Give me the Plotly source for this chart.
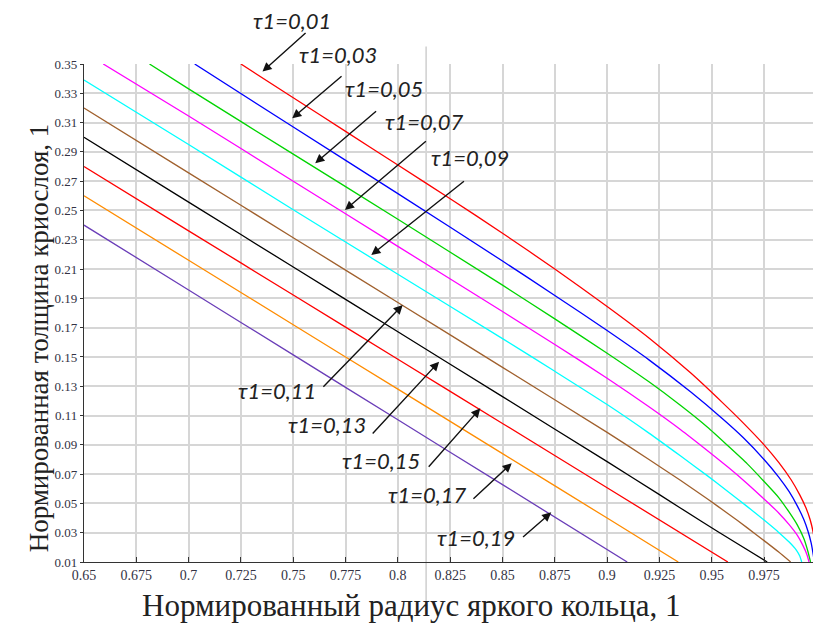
import plotly.graph_objects as go

# ---- data ----
tau_labels = ["τ1=0,01", "τ1=0,03", "τ1=0,05", "τ1=0,07", "τ1=0,09",
              "τ1=0,11", "τ1=0,13", "τ1=0,15", "τ1=0,17", "τ1=0,19"]
colors = ["#FF0000", "#0000FF", "#00D400", "#FF00FF", "#00FFFF",
          "#A0602D", "#000000", "#FF0000", "#FF8C00", "#6A3DB8"]

x_t01 = [0.725, 0.75, 0.775, 0.80, 0.825, 0.85, 0.875, 0.90, 0.92, 0.94, 0.955, 0.965, 0.975, 0.982, 0.988, 0.992, 0.995, 0.997, 0.9985, 0.9995, 1.0]
y_t01 = [0.350, 0.327, 0.304, 0.281, 0.258, 0.2345, 0.210, 0.1845, 0.163, 0.139, 0.119, 0.105, 0.090, 0.078, 0.066, 0.056, 0.047, 0.039, 0.030, 0.020, 0.010]

x_t03 = [0.7029, 0.75, 0.80, 0.85, 0.875, 0.90, 0.92, 0.94, 0.955, 0.965, 0.975, 0.982, 0.987, 0.991, 0.994, 0.996, 0.9975, 0.9985, 0.999]
y_t03 = [0.350, 0.307, 0.2615, 0.2155, 0.192, 0.168, 0.148, 0.126, 0.108, 0.095, 0.080, 0.068, 0.058, 0.048, 0.039, 0.031, 0.023, 0.015, 0.010]

x_t05 = [0.6813, 0.70, 0.75, 0.80, 0.85, 0.875, 0.90, 0.92, 0.935, 0.948, 0.958, 0.967, 0.975, 0.982, 0.987, 0.991, 0.994, 0.996, 0.9972]
y_t05 = [0.350, 0.333, 0.2885, 0.244, 0.199, 0.176, 0.1525, 0.133, 0.117, 0.102, 0.089, 0.077, 0.065, 0.054, 0.044, 0.035, 0.026, 0.017, 0.010]

x_t07 = [0.6592, 0.70, 0.75, 0.80, 0.85, 0.875, 0.90, 0.92, 0.935, 0.948, 0.958, 0.967, 0.975, 0.982, 0.987, 0.991, 0.9935, 0.9955, 0.9965]
y_t07 = [0.350, 0.3145, 0.270, 0.2255, 0.181, 0.1585, 0.1355, 0.116, 0.1005, 0.086, 0.0745, 0.0635, 0.053, 0.0435, 0.0355, 0.028, 0.0215, 0.015, 0.010]

x_t09 = [0.65, 0.70, 0.75, 0.80, 0.85, 0.875, 0.90, 0.92, 0.935, 0.948, 0.958, 0.967, 0.975, 0.982, 0.987, 0.9905, 0.992, 0.993]
y_t09 = [0.339, 0.295, 0.2505, 0.2065, 0.1625, 0.1402, 0.1175, 0.098, 0.0825, 0.0688, 0.0578, 0.0478, 0.0386, 0.0302, 0.0236, 0.018, 0.0143, 0.010]

x_t11 = [0.65, 0.70, 0.75, 0.80, 0.85, 0.90, 0.92, 0.935, 0.948, 0.958, 0.967, 0.975, 0.982, 0.9877]
y_t11 = [0.320, 0.2757, 0.2314, 0.1872, 0.1429, 0.0985, 0.080, 0.0658, 0.053, 0.0428, 0.0333, 0.0246, 0.0168, 0.010]

x_t13 = [0.65, 0.70, 0.75, 0.80, 0.85, 0.90, 0.925, 0.945, 0.96, 0.9765]
y_t13 = [0.300, 0.2557, 0.2114, 0.1672, 0.1229, 0.0785, 0.056, 0.0378, 0.0245, 0.010]

x_t15 = [0.65, 0.70, 0.75, 0.80, 0.85, 0.90, 0.9577]
y_t15 = [0.280, 0.2361, 0.1923, 0.1484, 0.1046, 0.0607, 0.010]

x_t17 = [0.65, 0.70, 0.75, 0.80, 0.85, 0.90, 0.934]
y_t17 = [0.260, 0.216, 0.172, 0.128, 0.084, 0.040, 0.010]

x_t19 = [0.65, 0.70, 0.75, 0.80, 0.85, 0.9096]
y_t19 = [0.240, 0.1957, 0.1514, 0.1071, 0.0628, 0.010]

xs = [x_t01, x_t03, x_t05, x_t07, x_t09, x_t11, x_t13, x_t15, x_t17, x_t19]
ys = [y_t01, y_t03, y_t05, y_t07, y_t09, y_t11, y_t13, y_t15, y_t17, y_t19]

x_ticks = [0.65, 0.675, 0.7, 0.725, 0.75, 0.775, 0.8, 0.825, 0.85, 0.875, 0.9, 0.925, 0.95, 0.975, 1.0]
x_ticktext = ["0.65", "0.675", "0.7", "0.725", "0.75", "0.775", "0.8", "0.825", "0.85", "0.875", "0.9", "0.925", "0.95", "0.975", "1"]
y_ticks = [0.01, 0.03, 0.05, 0.07, 0.09, 0.11, 0.13, 0.15, 0.17, 0.19, 0.21, 0.23, 0.25, 0.27, 0.29, 0.31, 0.33, 0.35]
y_ticktext = ["0.01", "0.03", "0.05", "0.07", "0.09", "0.11", "0.13", "0.15", "0.17", "0.19", "0.21", "0.23", "0.25", "0.27", "0.29", "0.31", "0.33", "0.35"]

X_RANGE = [0.65, 1.0003]
Y_RANGE = [0.01, 0.35]

# label text centre, arrow tail, arrow head (data coordinates)
label_pos = [
    (0.7495, 0.3795, 0.7566, 0.3721, 0.7353, 0.3448),
    (0.7713, 0.3565, 0.7738, 0.3425, 0.7495, 0.3129),
    (0.7935, 0.3333, 0.7903, 0.3186, 0.7605, 0.2822),
    (0.8124, 0.3107, 0.8141, 0.2981, 0.7747, 0.2503),
    (0.8347, 0.2862, 0.8323, 0.2708, 0.7873, 0.2196),
    (0.7424, 0.1271, 0.7637, 0.1286, 0.8023, 0.1855),
    (0.7661, 0.1039, 0.7873, 0.0967, 0.8197, 0.1468),
    (0.7921, 0.0793, 0.8141, 0.0740, 0.8394, 0.1149),
    (0.8139, 0.0561, 0.8354, 0.0523, 0.8544, 0.0774),
    (0.8375, 0.0267, 0.8591, 0.0262, 0.8733, 0.0439),
]

x_title = "Нормированный радиус яркого кольца, 1"
y_title = "Нормированная толщина криослоя, 1"


def to_paper_x(v):
    return (v - X_RANGE[0]) / (X_RANGE[1] - X_RANGE[0])


def to_paper_y(v):
    return (v - Y_RANGE[0]) / (Y_RANGE[1] - Y_RANGE[0])


fig = go.Figure()
for xv, yv, c, name in zip(xs, ys, colors, tau_labels):
    fig.add_trace(go.Scatter(x=xv, y=yv, mode="lines", name=name,
                             line=dict(color=c, width=1.3, shape="spline", smoothing=0.6),
                             showlegend=False, hoverinfo="x+y+name"))

annotations = []
for name, (tx, ty, ax, ay, hx, hy) in zip(tau_labels, label_pos):
    annotations.append(dict(x=hx, y=hy, ax=ax, ay=ay, xref="x", yref="y", axref="x", ayref="y",
                            text="", showarrow=True, arrowhead=2, arrowsize=1.3, arrowwidth=1.4,
                            arrowcolor="#111111"))
    annotations.append(dict(x=to_paper_x(tx), y=to_paper_y(ty), xref="paper", yref="paper",
                            xanchor="center", yanchor="middle", borderpad=0,
                            text="<i>" + name + "</i>", showarrow=False,
                            font=dict(family="Lato, Open Sans, sans-serif", size=22, color="#222222")))

annotations.append(dict(x=0.447, y=-0.087, xref="paper", yref="paper", text=x_title, showarrow=False,
                        xanchor="center", yanchor="middle",
                        font=dict(family="Liberation Serif, Times New Roman, serif", size=31, color="#222222")))
annotations.append(dict(x=-0.0622, y=0.45, xref="paper", yref="paper", text=y_title, showarrow=False,
                        textangle=-90, xanchor="center", yanchor="middle",
                        font=dict(family="Liberation Serif, Times New Roman, serif", size=27, color="#222222")))

fig.update_layout(
    width=821, height=625,
    margin=dict(l=76, r=9, t=56, b=71),
    paper_bgcolor="white", plot_bgcolor="white",
    annotations=annotations,
    shapes=[dict(type="line", xref="x", yref="paper", x0=0.8135, x1=0.8135, y0=-0.09, y1=1.035,
                 line=dict(color="#cfcfcf", width=1.5), layer="below")],
    xaxis=dict(range=X_RANGE, tickmode="array", tickvals=x_ticks, ticktext=x_ticktext,
               showgrid=True, gridcolor="#d6d6d6", gridwidth=1.5,
               showline=True, linecolor="#333333", linewidth=1.3,
               ticks="inside", ticklen=5, tickcolor="#333333", ticklabeloverflow="allow",
               tickfont=dict(family="Liberation Serif, Times New Roman, serif", size=14, color="#333344"),
               zeroline=False),
    yaxis=dict(range=Y_RANGE, tickmode="array", tickvals=y_ticks, ticktext=y_ticktext,
               showgrid=True, gridcolor="#d6d6d6", gridwidth=1.5,
               showline=True, linecolor="#333333", linewidth=1.3,
               ticks="outside", ticklen=3, tickcolor="#333333",
               tickfont=dict(family="Liberation Serif, Times New Roman, serif", size=13, color="#333344"),
               zeroline=False),
)

fig.write_html("out.html")
